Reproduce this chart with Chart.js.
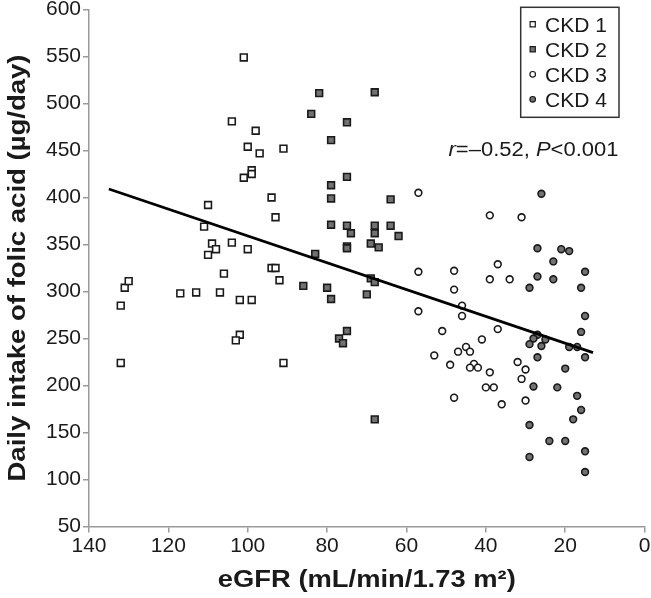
<!DOCTYPE html>
<html>
<head>
<meta charset="utf-8">
<script src="https://cdn.jsdelivr.net/npm/chart.js@4"></script>
<style>
  html, body { margin: 0; padding: 0; background: #fff; }
  #wrap { width: 651px; height: 598px; }
</style>
</head>
<body>
<div id="wrap"><canvas id="chart" width="651" height="598"></canvas></div>
<script>
// --- Data ---
const seriesNames = ["CKD 1", "CKD 2", "CKD 3", "CKD 4"];

const ckd1 = [
  [132, 224], [132, 285], [131, 304], [130, 311], [117, 298], [113, 299], [107, 299],
  [106, 319], [110, 339], [109, 351], [108, 345], [111, 369], [110, 392], [104, 352],
  [104, 481], [101, 549], [98, 471], [100, 454], [97, 447], [101, 421], [99, 429],
  [99, 425], [91, 452], [94, 400], [93, 379], [94, 325], [93, 325], [92, 312],
  [100, 345], [102, 291], [99, 291], [102, 254], [103, 248], [91, 224]
];
const ckd2 = [
  [82, 511], [68, 512], [84, 489], [75, 480], [79, 461], [75, 422], [79, 413],
  [79, 399], [64, 398], [79, 371], [75, 370], [74, 362], [68, 370], [68, 362],
  [64, 370], [62, 359], [75, 348], [75, 346], [69, 351], [67, 347], [83, 340],
  [86, 306], [80, 304], [79, 292], [69, 314], [68, 310], [70, 297], [75, 258],
  [77, 250], [76, 245], [68, 164]
];
const ckd3 = [
  [57, 405], [39, 381], [31, 379], [57, 321], [48, 322], [37, 329], [39, 313],
  [34, 313], [48, 302], [57, 279], [46, 285], [46, 274], [51, 258], [37, 260],
  [41, 249], [53, 232], [47, 236], [45, 241], [44, 236], [49, 222], [43, 223],
  [44, 219], [42, 219], [32, 225], [30, 217], [39, 214], [40, 198], [38, 198],
  [31, 207], [48, 187], [30, 184], [36, 180]
];
const ckd4 = [
  [26, 404], [27, 346], [21, 345], [19, 343], [23, 332], [15, 321], [27, 316],
  [23, 313], [29, 304], [16, 304], [15, 274], [16, 257], [27, 254], [28, 250],
  [25, 249], [29, 244], [26, 242], [19, 241], [17, 241], [27, 230], [15, 230],
  [20, 218], [28, 199], [22, 198], [17, 189], [16, 174], [18, 164], [29, 158],
  [24, 141], [20, 141], [15, 130], [29, 124], [15, 108]
];
// regression line end points
const fitLine = [[135, 409], [13, 235]];

const xTicks = [140, 120, 100, 80, 60, 40, 20, 0];
const yTicks = [50, 100, 150, 200, 250, 300, 350, 400, 450, 500, 550, 600];

const statText = [["r", true], ["=\u20130.52, ", false], ["P", true], ["<0.001", false]];
const xTitle = "eGFR (mL/min/1.73 m\u00B2)";
const yTitle = "Daily intake of folic acid (\u00B5g/day)";

// --- Styles ---
const FONT = '"Liberation Sans", Arial, Helvetica, sans-serif';
const INK = "#1a1a1a";
const GRAY_FILL = "#727272";
const AXIS = "#9a9a9a";

const toXY = arr => arr.map(([x, y]) => ({ x, y }));

const markerStyles = [
  { pointStyle: "rect", fill: "#ffffff", radius: 4.8 },
  { pointStyle: "rect", fill: GRAY_FILL, radius: 4.8 },
  { pointStyle: "circle", fill: "#ffffff", radius: 3.4 },
  { pointStyle: "circle", fill: GRAY_FILL, radius: 3.4 }
];
const seriesData = [ckd1, ckd2, ckd3, ckd4];

const datasets = seriesData.map((pts, i) => ({
  type: "scatter",
  label: seriesNames[i],
  data: toXY(pts),
  pointStyle: markerStyles[i].pointStyle,
  pointRadius: markerStyles[i].radius,
  pointBackgroundColor: markerStyles[i].fill,
  pointBorderColor: INK,
  pointBorderWidth: 1.6,
  order: 2
}));

datasets.push({
  type: "line",
  label: "fit",
  data: toXY(fitLine),
  borderColor: "#000",
  borderWidth: 2.8,
  pointRadius: 0,
  fill: false,
  tension: 0,
  order: 1
});

// draw text stretched to a given width
function fitText(ctx, text, x, y, width) {
  const w = ctx.measureText(text).width;
  const sx = width / w;
  ctx.save();
  ctx.translate(x, y);
  ctx.scale(sx, 1);
  ctx.fillText(text, 0, 0);
  ctx.restore();
}

// --- Titles, stats text and boxed legend ---
const decorations = {
  id: "decorations",
  afterDraw(chart) {
    const ctx = chart.ctx;
    const area = chart.chartArea;
    ctx.save();
    ctx.fillStyle = INK;
    ctx.textBaseline = "alphabetic";

    // x title
    ctx.font = "bold 24px " + FONT;
    ctx.textAlign = "center";
    fitText(ctx, xTitle, (area.left + area.right) / 2, 587, 298);

    // y title (rotated)
    ctx.save();
    ctx.translate(25, (area.top + area.bottom) / 2);
    ctx.rotate(-Math.PI / 2);
    fitText(ctx, yTitle, 0, 0, 427);
    ctx.restore();

    // r / P text
    ctx.textAlign = "left";
    let total = 0;
    statText.forEach(([t, it]) => {
      ctx.font = (it ? "italic " : "") + "20px " + FONT;
      total += ctx.measureText(t).width;
    });
    const sx = 170 / total;
    ctx.save();
    ctx.translate(448.5, 156);
    ctx.scale(sx, 1);
    let cx = 0;
    statText.forEach(([t, it]) => {
      ctx.font = (it ? "italic " : "") + "20px " + FONT;
      ctx.fillText(t, cx, 0);
      cx += ctx.measureText(t).width;
    });
    ctx.restore();

    // legend box
    ctx.strokeStyle = "#333";
    ctx.lineWidth = 1.5;
    ctx.strokeRect(520.7, 7.3, 98.3, 110);
    ctx.font = "21px " + FONT;
    seriesNames.forEach((name, i) => {
      const cy = 24.3 + i * 25;
      const m = markerStyles[i];
      ctx.fillStyle = m.fill;
      ctx.strokeStyle = INK;
      ctx.lineWidth = 1.2;
      ctx.beginPath();
      if (m.pointStyle === "rect") {
        ctx.rect(532.7 - 2.6, cy - 2.6, 5.2, 5.2);
      } else {
        ctx.arc(532.7, cy, 2.8, 0, Math.PI * 2);
      }
      ctx.fill();
      ctx.stroke();
      ctx.fillStyle = INK;
      ctx.fillText(name, 545, cy + 7.4);
    });
    ctx.restore();
  }
};

const ctx = document.getElementById("chart").getContext("2d");

new Chart(ctx, {
  data: { datasets },
  options: {
    responsive: false,
    animation: false,
    devicePixelRatio: 1,
    layout: { padding: { left: 0, right: 5.7, top: 9.5, bottom: 0 } },
    plugins: {
      legend: { display: false },
      tooltip: { enabled: false }
    },
    scales: {
      x: {
        type: "linear",
        reverse: true,
        min: 0,
        max: 140,
        afterBuildTicks: s => { s.ticks = xTicks.map(v => ({ value: v })); },
        ticks: {
          font: { family: FONT, size: 21 },
          color: INK,
          padding: 1,
          maxRotation: 0,
          autoSkip: false
        },
        grid: { drawOnChartArea: false, tickLength: 6, color: AXIS, lineWidth: 1.5 },
        border: { color: AXIS, width: 1.5 },
        afterFit: s => { s.height = 71.5; s.paddingLeft = 0; s.paddingRight = 0; }
      },
      y: {
        type: "linear",
        min: 50,
        max: 600,
        afterBuildTicks: s => { s.ticks = yTicks.map(v => ({ value: v })); },
        ticks: {
          font: { family: FONT, size: 21 },
          color: INK,
          padding: 2
        },
        grid: { drawOnChartArea: false, tickLength: 6, color: AXIS, lineWidth: 1.5 },
        border: { color: AXIS, width: 1.5 },
        afterFit: s => { s.width = 89; s.paddingTop = 0; s.paddingBottom = 0; }
      }
    }
  },
  plugins: [decorations]
});
</script>
</body>
</html>
